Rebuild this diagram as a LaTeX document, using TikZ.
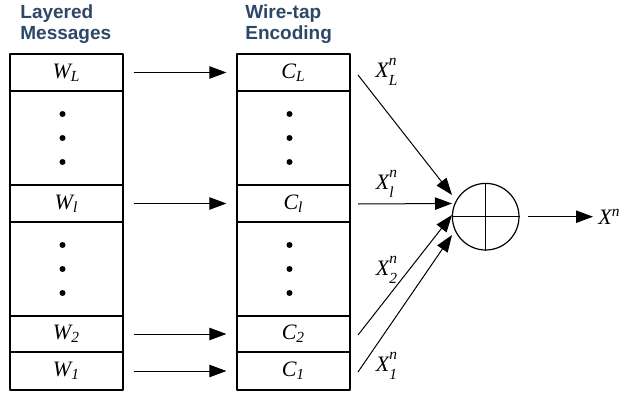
\documentclass[tikz,border=0pt]{standalone}
\usepackage{amsmath}
\usepackage{fontspec}
\setmainfont{Liberation Serif}
\newfontfamily\headfont{Liberation Sans}
\usetikzlibrary{arrows.meta,positioning,calc}
\definecolor{headblue}{RGB}{44,72,102}
\newcommand\lsub[2]{$\textit{#1}_{\textit{#2}}$}
\newcommand\lboth[3]{$\textit{#1}_{\text{\raisebox{-1.5pt}{\itshape #2}}}^{\text{\raisebox{2pt}{\itshape #3}}}$}

\tikzset{
  cell/.style={draw, line width=0.6pt, minimum width=56.5pt, inner sep=0pt,
    font=\fontsize{11}{13}\selectfont},
  head/.style={anchor=north west, inner sep=0pt, align=left, text=headblue,
    font=\headfont\bfseries\fontsize{9.5}{10.5}\selectfont},
  feed/.style={-{Triangle[length=8.5pt,width=6.2pt]}, line width=0.5pt},
  lab/.style={font=\fontsize{11}{13}\selectfont, inner sep=0pt},
  vdot/.style={circle, fill, inner sep=0pt, minimum size=3pt}
}

\begin{document}
\begin{tikzpicture}[x=0.5pt, y=-0.5pt, line join=round]
  \useasboundingbox (0,0) rectangle (633,396);

  % headers
  \node[head] (hw) at (20,4) {Layered\\Messages};
  \node[head] (hc) at (245,4) {Wire-tap\\Encoding};

  % layered messages
  \node[cell, minimum height=18.5pt] (wL) at (66.5,72.5) {\lsub{W}{L}};
  \node[cell, minimum height=47pt] (wa) at (66.5,138) {};
  \node[cell, minimum height=18.5pt] (wl) at (66.5,203.5) {\lsub{W}{l}};
  \node[cell, minimum height=47pt] (wb) at (66.5,269) {};
  \node[cell, minimum height=18pt] (w2) at (66.5,334) {\lsub{W}{2}};
  \node[cell, minimum height=19pt] (w1) at (66.5,371) {\lsub{W}{1}};

  % wire-tap codes
  \node[cell, minimum height=18.5pt] (cL) at (293.5,72.5) {\lsub{C}{L}};
  \node[cell, minimum height=47pt] (ca) at (293.5,138) {};
  \node[cell, minimum height=18.5pt] (cl) at (293.5,203.5) {\lsub{C}{l}};
  \node[cell, minimum height=47pt] (cb) at (293.5,269) {};
  \node[cell, minimum height=18pt] (c2) at (293.5,334) {\lsub{C}{2}};
  \node[cell, minimum height=19pt] (c1) at (293.5,371) {\lsub{C}{1}};

  % vertical dots
  \foreach \col in {wa,wb,ca,cb}
    \foreach \dy in {-24,0,24}
      \node[vdot] at ($(\col.center)+(-4,\dy)$) {};

  % message to code
  \foreach \w/\c in {wL/cL,wl/cl,w2/c2,w1/c1}
    \draw[feed, shorten <=5pt, shorten >=5pt] (\w.east) -- (\c.west);

  % combiner
  \node[circle, draw, line width=0.6pt, minimum size=33.3pt, inner sep=0pt] (sum) at (485.7,216.7) {};
  \draw[line width=0.6pt] (sum.north) -- (sum.south) (sum.west) -- (sum.east);

  \coordinate (sL) at (358,75);   \coordinate (tL) at (452,195);
  \coordinate (sl) at (358,204);  \coordinate (tl) at (452,203.5);
  \coordinate (s2) at (358,335);  \coordinate (t2) at (452,215);
  \coordinate (s1) at (358,372);  \coordinate (t1) at (452,235);
  \foreach \i in {L,l,2,1}
    \draw[feed] (s\i) -- (t\i);

  \node[lab] (xL) at (387,72) {\lboth{X}{L}{n}};
  \node[lab] (xl) at (387,184) {\lboth{X}{l}{n}};
  \node[lab] (x2) at (387,270) {\lboth{X}{2}{n}};
  \node[lab] (x1) at (387,366) {\lboth{X}{1}{n}};

  % output
  \node[lab, anchor=west] (xn) at (598,216.7) {$\textit{X}^{\textit{n}}$};
  \draw[feed, shorten <=4pt, shorten >=2.5pt] (sum.east) -- (xn.west);
\end{tikzpicture}
\end{document}
